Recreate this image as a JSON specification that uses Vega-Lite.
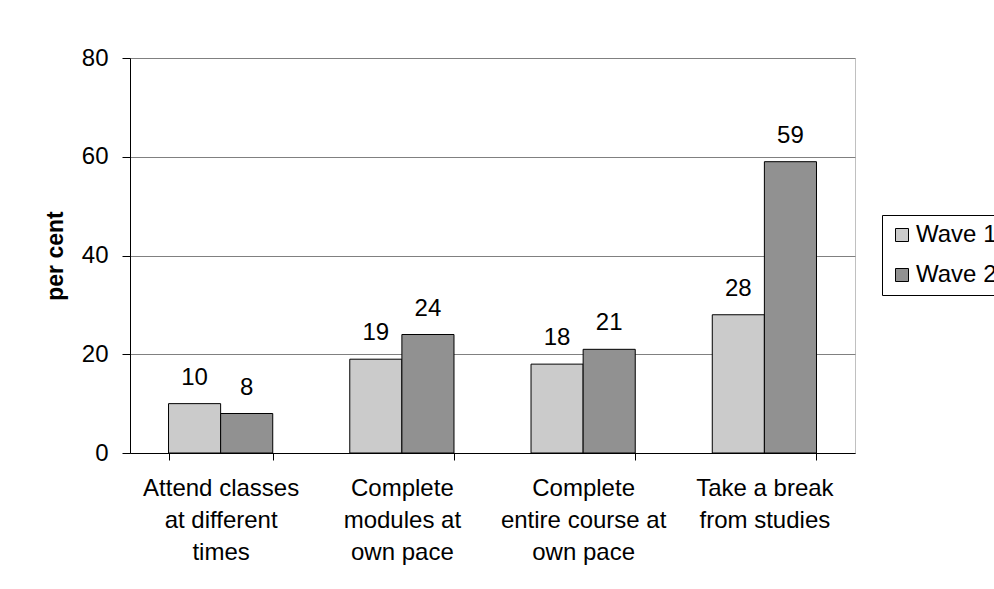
{
  "$schema": "https://vega.github.io/schema/vega-lite/v6.json",
  "width": 725,
  "height": 395,
  "autosize": {"type": "none"},
  "padding": {"left": 130, "top": 58, "right": 139, "bottom": 136},
  "background": "white",
  "config": {"font": "Liberation Sans", "view": {"stroke": "#c0c0c0", "strokeWidth": 1}},
  "data": {
    "values": [
      {"activity": "Attend classes at different times", "wave": "Wave 1", "pct": 10},
      {"activity": "Attend classes at different times", "wave": "Wave 2", "pct": 8},
      {"activity": "Complete modules at own pace", "wave": "Wave 1", "pct": 19},
      {"activity": "Complete modules at own pace", "wave": "Wave 2", "pct": 24},
      {"activity": "Complete entire course at own pace", "wave": "Wave 1", "pct": 18},
      {"activity": "Complete entire course at own pace", "wave": "Wave 2", "pct": 21},
      {"activity": "Take a break from studies", "wave": "Wave 1", "pct": 28},
      {"activity": "Take a break from studies", "wave": "Wave 2", "pct": 59}
    ]
  },
  "encoding": {
    "x": {
      "field": "activity",
      "type": "nominal",
      "sort": ["Attend classes at different times", "Complete modules at own pace", "Complete entire course at own pace", "Take a break from studies"],
      "scale": {"paddingInner": 0.425, "paddingOuter": 0.2125},
      "axis": {
        "title": null,
        "labelAngle": 0,
        "labelFontSize": 24,
        "labelColor": "black",
        "labelLineHeight": 32,
        "labelPadding": 16,
        "tickBand": "extent",
        "tickSize": 7,
        "tickColor": "black",
        "domainColor": "black",
        "grid": false,
        "labelExpr": "datum.value == 'Attend classes at different times' ? ['Attend classes', 'at different', 'times'] : datum.value == 'Complete modules at own pace' ? ['Complete', 'modules at', 'own pace'] : datum.value == 'Complete entire course at own pace' ? ['Complete', 'entire course at', 'own pace'] : datum.value == 'Take a break from studies' ? ['Take a break', 'from studies'] : ''"
      }
    },
    "xOffset": {"field": "wave", "type": "nominal", "scale": {"paddingInner": 0, "paddingOuter": 0}},
    "y": {
      "field": "pct",
      "type": "quantitative",
      "scale": {"domain": [0, 80]},
      "axis": {
        "values": [0, 20, 40, 60, 80],
        "grid": true,
        "gridColor": "#808080",
        "domainColor": "black",
        "tickColor": "black",
        "tickSize": 8,
        "labelFontSize": 24,
        "labelColor": "black",
        "labelPadding": 14,
        "title": "per cent",
        "titleFontSize": 23,
        "titleFontWeight": "bold",
        "titleColor": "black",
        "titleAngle": -90,
        "titleX": -75,
        "titleY": 197.5,
        "titleAlign": "center",
        "titleBaseline": "middle"
      }
    }
  },
  "layer": [
    {
      "mark": {"type": "bar", "stroke": "black", "strokeWidth": 1},
      "encoding": {
        "color": {
          "field": "wave",
          "type": "nominal",
          "scale": {"domain": ["Wave 1", "Wave 2"], "range": ["#cbcbcb", "#919191"]},
          "legend": {
            "title": null,
            "orient": "none",
            "legendX": 752,
            "legendY": 157,
            "strokeColor": "black",
            "fillColor": "white",
            "padding": 8,
            "symbolType": "square",
            "symbolSize": 169,
            "symbolStrokeColor": "black",
            "symbolStrokeWidth": 1,
            "labelFontSize": 24,
            "labelColor": "black",
            "rowPadding": 16,
            "labelOffset": 2
          }
        }
      }
    },
    {
      "mark": {"type": "text", "baseline": "alphabetic", "dy": -19, "fontSize": 24, "color": "black"},
      "encoding": {"text": {"field": "pct", "type": "quantitative"}}
    }
  ]
}
